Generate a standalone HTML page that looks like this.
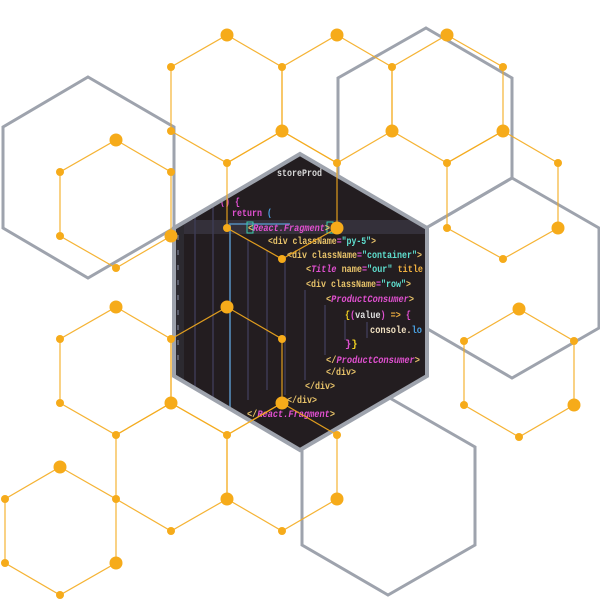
<!DOCTYPE html>
<html><head><meta charset="utf-8"><style>
html,body{margin:0;padding:0;background:#fff;}
svg{display:block;}
.c{font-family:"Liberation Mono",monospace;font-size:10.5px;font-weight:bold;}
</style></head><body>
<svg width="600" height="600" viewBox="0 0 600 600" xmlns="http://www.w3.org/2000/svg">
<defs>
<clipPath id="hx"><polygon points="300,154 427,228 427,376 300,450 174,376 174,228"/></clipPath>
</defs>
<g fill="none" stroke="#9ea3ad" stroke-width="3" stroke-linejoin="miter">
<polygon points="88,77 174,127 174,228 88,278 3,228 3,127"/>
<polygon points="426,28 512,78 512,178 426,228 338,178 338,78"/>
<polygon points="512,178 599,228 599,328 512,378 426,328 426,228"/>
<polygon points="388,397 475,447 475,545 388,595 302,545 302,447"/>
</g>
<g clip-path="url(#hx)">
<rect x="170" y="150" width="260" height="300" fill="#231d20"/>
<rect x="170" y="220" width="260" height="14" fill="#34303a"/>
<rect x="174" y="150" width="10" height="300" fill="#2c2a30"/>
<g stroke="#6c7080" stroke-width="1.5">
<line x1="178" y1="235" x2="178" y2="240"/><line x1="178" y1="250" x2="178" y2="255"/><line x1="178" y1="265" x2="178" y2="270"/><line x1="178" y1="280" x2="178" y2="285"/><line x1="178" y1="295" x2="178" y2="300"/><line x1="178" y1="310" x2="178" y2="315"/><line x1="178" y1="325" x2="178" y2="330"/><line x1="178" y1="340" x2="178" y2="345"/><line x1="178" y1="355" x2="178" y2="360"/>
</g>
<g stroke="#3d3a52" stroke-width="1.5">
<line x1="195" y1="180" x2="195" y2="420"/>
<line x1="213" y1="200" x2="213" y2="420"/>
<line x1="248" y1="240" x2="248" y2="400"/>
<line x1="267" y1="250" x2="267" y2="390"/>
<line x1="285" y1="260" x2="285" y2="395"/>
<line x1="305" y1="290" x2="305" y2="380"/>
<line x1="325" y1="305" x2="325" y2="355"/>
<line x1="345" y1="320" x2="345" y2="340"/>
<line x1="367" y1="322" x2="367" y2="338"/>
</g>
<polyline points="230,440 230,224 290,224" fill="none" stroke="#4f7fa8" stroke-width="1.8"/>
<text class="c" x="277" y="176" fill="#d8d8d8" textLength="45" lengthAdjust="spacingAndGlyphs">storeProd</text>
<text class="c" x="205" y="205" textLength="35" lengthAdjust="spacingAndGlyphs"><tspan fill="#4aa0e0">der</tspan><tspan fill="#e050d0">() {</tspan></text>
<text class="c" x="232" y="216" textLength="40" lengthAdjust="spacingAndGlyphs"><tspan fill="#e050d0">return </tspan><tspan fill="#4aa0e0">(</tspan></text>
<rect x="247" y="222" width="6" height="11" fill="none" stroke="#3ad0b0" stroke-width="1"/>
<rect x="327" y="222" width="6" height="11" fill="none" stroke="#3ad0b0" stroke-width="1"/>
<text class="c" x="248" y="231" textLength="82" lengthAdjust="spacingAndGlyphs"><tspan fill="#e8c36a">&lt;</tspan><tspan fill="#e050d0" font-style="italic">React.Fragment</tspan><tspan fill="#e8c36a">&gt;</tspan></text>
<text class="c" x="268" y="244" textLength="108" lengthAdjust="spacingAndGlyphs"><tspan fill="#e8c36a">&lt;div className</tspan><tspan fill="#e050d0">=</tspan><tspan fill="#5fe0d0">"py-5"</tspan><tspan fill="#e8c36a">&gt;</tspan></text>
<text class="c" x="287" y="258" textLength="135" lengthAdjust="spacingAndGlyphs"><tspan fill="#e8c36a">&lt;div className</tspan><tspan fill="#e050d0">=</tspan><tspan fill="#5fe0d0">"container"</tspan><tspan fill="#e8c36a">&gt;</tspan></text>
<text class="c" x="306" y="272" textLength="117" lengthAdjust="spacingAndGlyphs"><tspan fill="#e8c36a">&lt;</tspan><tspan fill="#e050d0" font-style="italic">Title</tspan><tspan fill="#e8c36a"> name</tspan><tspan fill="#e050d0">=</tspan><tspan fill="#5fe0d0">"our"</tspan><tspan fill="#f0b040"> title</tspan></text>
<text class="c" x="306" y="287" textLength="105" lengthAdjust="spacingAndGlyphs"><tspan fill="#e8c36a">&lt;div className</tspan><tspan fill="#e050d0">=</tspan><tspan fill="#5fe0d0">"row"</tspan><tspan fill="#e8c36a">&gt;</tspan></text>
<text class="c" x="326" y="302" textLength="88" lengthAdjust="spacingAndGlyphs"><tspan fill="#e8c36a">&lt;</tspan><tspan fill="#e050d0" font-style="italic">ProductConsumer</tspan><tspan fill="#e8c36a">&gt;</tspan></text>
<text class="c" x="345" y="318" textLength="66" lengthAdjust="spacingAndGlyphs"><tspan fill="#f0d020">{</tspan><tspan fill="#e050d0">(</tspan><tspan fill="#e0e0e0">value</tspan><tspan fill="#e050d0">)</tspan><tspan fill="#f0b040"> =&gt; </tspan><tspan fill="#e050d0">{</tspan></text>
<text class="c" x="370" y="333" textLength="52" lengthAdjust="spacingAndGlyphs"><tspan fill="#f0e0c0">console.</tspan><tspan fill="#4aa0e0">lo</tspan></text>
<text class="c" x="345" y="347"><tspan fill="#e050d0">}</tspan><tspan fill="#f0d020">}</tspan></text>
<text class="c" x="326" y="363" textLength="94" lengthAdjust="spacingAndGlyphs"><tspan fill="#e8c36a">&lt;/</tspan><tspan fill="#e050d0" font-style="italic">ProductConsumer</tspan><tspan fill="#e8c36a">&gt;</tspan></text>
<text class="c" x="326" y="375" fill="#e8c36a" textLength="30" lengthAdjust="spacingAndGlyphs">&lt;/div&gt;</text>
<text class="c" x="305" y="389" fill="#e8c36a" textLength="30" lengthAdjust="spacingAndGlyphs">&lt;/div&gt;</text>
<text class="c" x="287" y="403" fill="#e8c36a" textLength="30" lengthAdjust="spacingAndGlyphs">&lt;/div&gt;</text>
<text class="c" x="247" y="417" textLength="88" lengthAdjust="spacingAndGlyphs"><tspan fill="#e8c36a">&lt;/</tspan><tspan fill="#e050d0" font-style="italic">React.Fragment</tspan><tspan fill="#e8c36a">&gt;</tspan></text>
</g>
<polygon points="300,154 427,228 427,376 300,450 174,376 174,228" fill="none" stroke="#9ea3ad" stroke-width="4"/>
<g fill="none" stroke="#f4ab1e" stroke-width="1.2" stroke-opacity="0.9">
<polygon points="227,35 282,67 282,131 227,163 171,131 171,67"/>
<polygon points="337,35 392,67 392,131 337,163 282,131 282,67"/>
<polygon points="447,35 503,67 503,131 447,163 392,131 392,67"/>
<polygon points="282,131 337,163 337,228 282,259 227,228 227,163"/>
<polygon points="503,131 558,163 558,228 503,259 447,228 447,163"/>
<polygon points="116,140 171,172 171,236 116,268 60,236 60,172"/>
<polygon points="116,307 171,339 171,403 116,435 60,403 60,339"/>
<polygon points="227,307 282,339 282,403 227,435 171,403 171,339"/>
<polygon points="171,403 227,435 227,499 171,531 116,499 116,435"/>
<polygon points="282,403 337,435 337,499 282,531 227,499 227,435"/>
<polygon points="60,467 116,499 116,563 60,595 5,563 5,499"/>
<polygon points="519,309 574,341 574,405 519,437 464,405 464,341"/>
</g>
<g fill="#f6ab1a">
<circle cx="171" cy="67" r="4"/><circle cx="282" cy="67" r="4"/><circle cx="392" cy="67" r="4"/><circle cx="503" cy="67" r="4"/>
<circle cx="171" cy="131" r="4"/>
<circle cx="227" cy="163" r="4"/><circle cx="337" cy="163" r="4"/><circle cx="447" cy="163" r="4"/><circle cx="558" cy="163" r="4"/>
<circle cx="227" cy="228" r="4"/><circle cx="447" cy="228" r="4"/>
<circle cx="282" cy="259" r="4"/><circle cx="503" cy="259" r="4"/>
<circle cx="60" cy="172" r="4"/><circle cx="171" cy="172" r="4"/><circle cx="60" cy="236" r="4"/><circle cx="116" cy="268" r="4"/>
<circle cx="60" cy="339" r="4"/><circle cx="171" cy="339" r="4"/><circle cx="282" cy="339" r="4"/>
<circle cx="60" cy="403" r="4"/>
<circle cx="116" cy="435" r="4"/><circle cx="227" cy="435" r="4"/><circle cx="337" cy="435" r="4"/>
<circle cx="116" cy="499" r="4"/><circle cx="5" cy="499" r="4"/>
<circle cx="171" cy="531" r="4"/><circle cx="282" cy="531" r="4"/>
<circle cx="5" cy="563" r="4"/><circle cx="60" cy="595" r="4"/>
<circle cx="464" cy="341" r="4"/><circle cx="574" cy="341" r="4"/><circle cx="464" cy="405" r="4"/><circle cx="519" cy="437" r="4"/>
</g>
<g fill="#f6ab1a">
<circle cx="227" cy="35" r="6.5"/><circle cx="337" cy="35" r="6.5"/><circle cx="447" cy="35" r="6.5"/>
<circle cx="282" cy="131" r="6.5"/><circle cx="392" cy="131" r="6.5"/><circle cx="503" cy="131" r="6.5"/>
<circle cx="337" cy="228" r="6.5"/><circle cx="558" cy="228" r="6.5"/>
<circle cx="116" cy="140" r="6.5"/><circle cx="171" cy="236" r="6.5"/>
<circle cx="116" cy="307" r="6.5"/><circle cx="227" cy="307" r="6.5"/>
<circle cx="171" cy="403" r="6.5"/><circle cx="282" cy="403" r="6.5"/>
<circle cx="60" cy="467" r="6.5"/><circle cx="227" cy="499" r="6.5"/><circle cx="337" cy="499" r="6.5"/>
<circle cx="116" cy="563" r="6.5"/>
<circle cx="519" cy="309" r="6.5"/><circle cx="574" cy="405" r="6.5"/>
</g>
</svg>
</body></html>
